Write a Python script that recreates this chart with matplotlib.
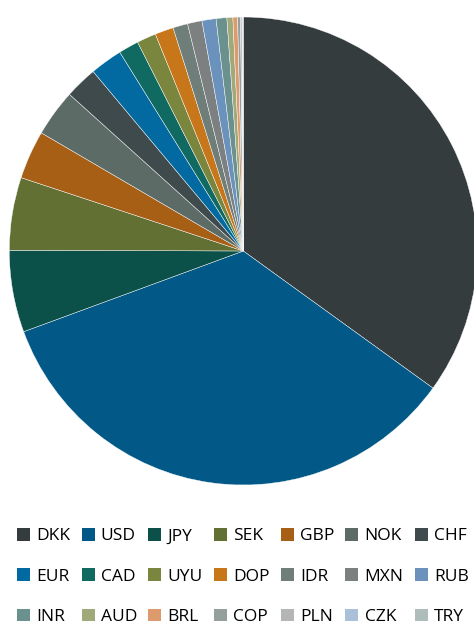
import numpy as np
import matplotlib
matplotlib.use("Agg")
import matplotlib.pyplot as plt
from matplotlib.patches import Patch

# currency shares (%), clockwise from 12 o'clock
currencies = ["DKK", "USD", "JPY", "SEK", "GBP", "NOK", "CHF",
              "EUR", "CAD", "UYU", "DOP", "IDR", "MXN", "RUB",
              "INR", "AUD", "BRL", "COP", "PLN", "CZK", "TRY"]
shares = [34.97, 34.44, 5.66, 5.02, 3.35, 3.25, 2.24,
          2.24, 1.39, 1.33, 1.28, 1.02, 1.00, 0.97,
          0.74, 0.41, 0.32, 0.20, 0.10, 0.05, 0.04]
colors = ["#343c3d", "#025987", "#0b5149", "#627034", "#a65f15", "#5d6b66", "#3e4a4b",
          "#026aa0", "#106a62", "#7a853d", "#c8761a", "#6f7e78", "#7c8081", "#6b92bd",
          "#6a918d", "#9fa97a", "#dd9a6d", "#95a09d", "#b3b5b6", "#aac0d8", "#aebdb9"]

plt.rcParams["font.family"] = ["Open Sans", "DejaVu Sans"]

W, H = 474, 627
fig = plt.figure(figsize=(W / 100, H / 100), dpi=100)

# pie centre ~(243, 251) px, radius ~234 px
cx, cy, r = 243.3, 251, 234
ax = fig.add_axes([(cx - r) / W, (H - cy - r) / H, 2 * r / W, 2 * r / H])
ax.pie(shares, colors=colors, startangle=90, counterclock=False, radius=1,
       wedgeprops=dict(edgecolor="white", linewidth=0.3))
ax.set_xlim(-1, 1); ax.set_ylim(-1, 1)
ax.set_aspect("equal")
ax.axis("off")

# legend is row-major in the reference; matplotlib fills columns first
handles = [Patch(facecolor=c, edgecolor="none") for c in colors]
order = [i * 7 + j for j in range(7) for i in range(3)]
fig.legend([handles[k] for k in order], [currencies[k] for k in order],
           ncol=7, loc="upper center", bbox_to_anchor=(0.5 + 6 / W, 1 - 528 / H),
           frameon=False, fontsize=12.5, handlelength=0.75, handleheight=0.75,
           handletextpad=0.35, columnspacing=0.645, labelspacing=1.38,
           borderaxespad=0, borderpad=0)

fig.savefig("out.png", dpi=100)
